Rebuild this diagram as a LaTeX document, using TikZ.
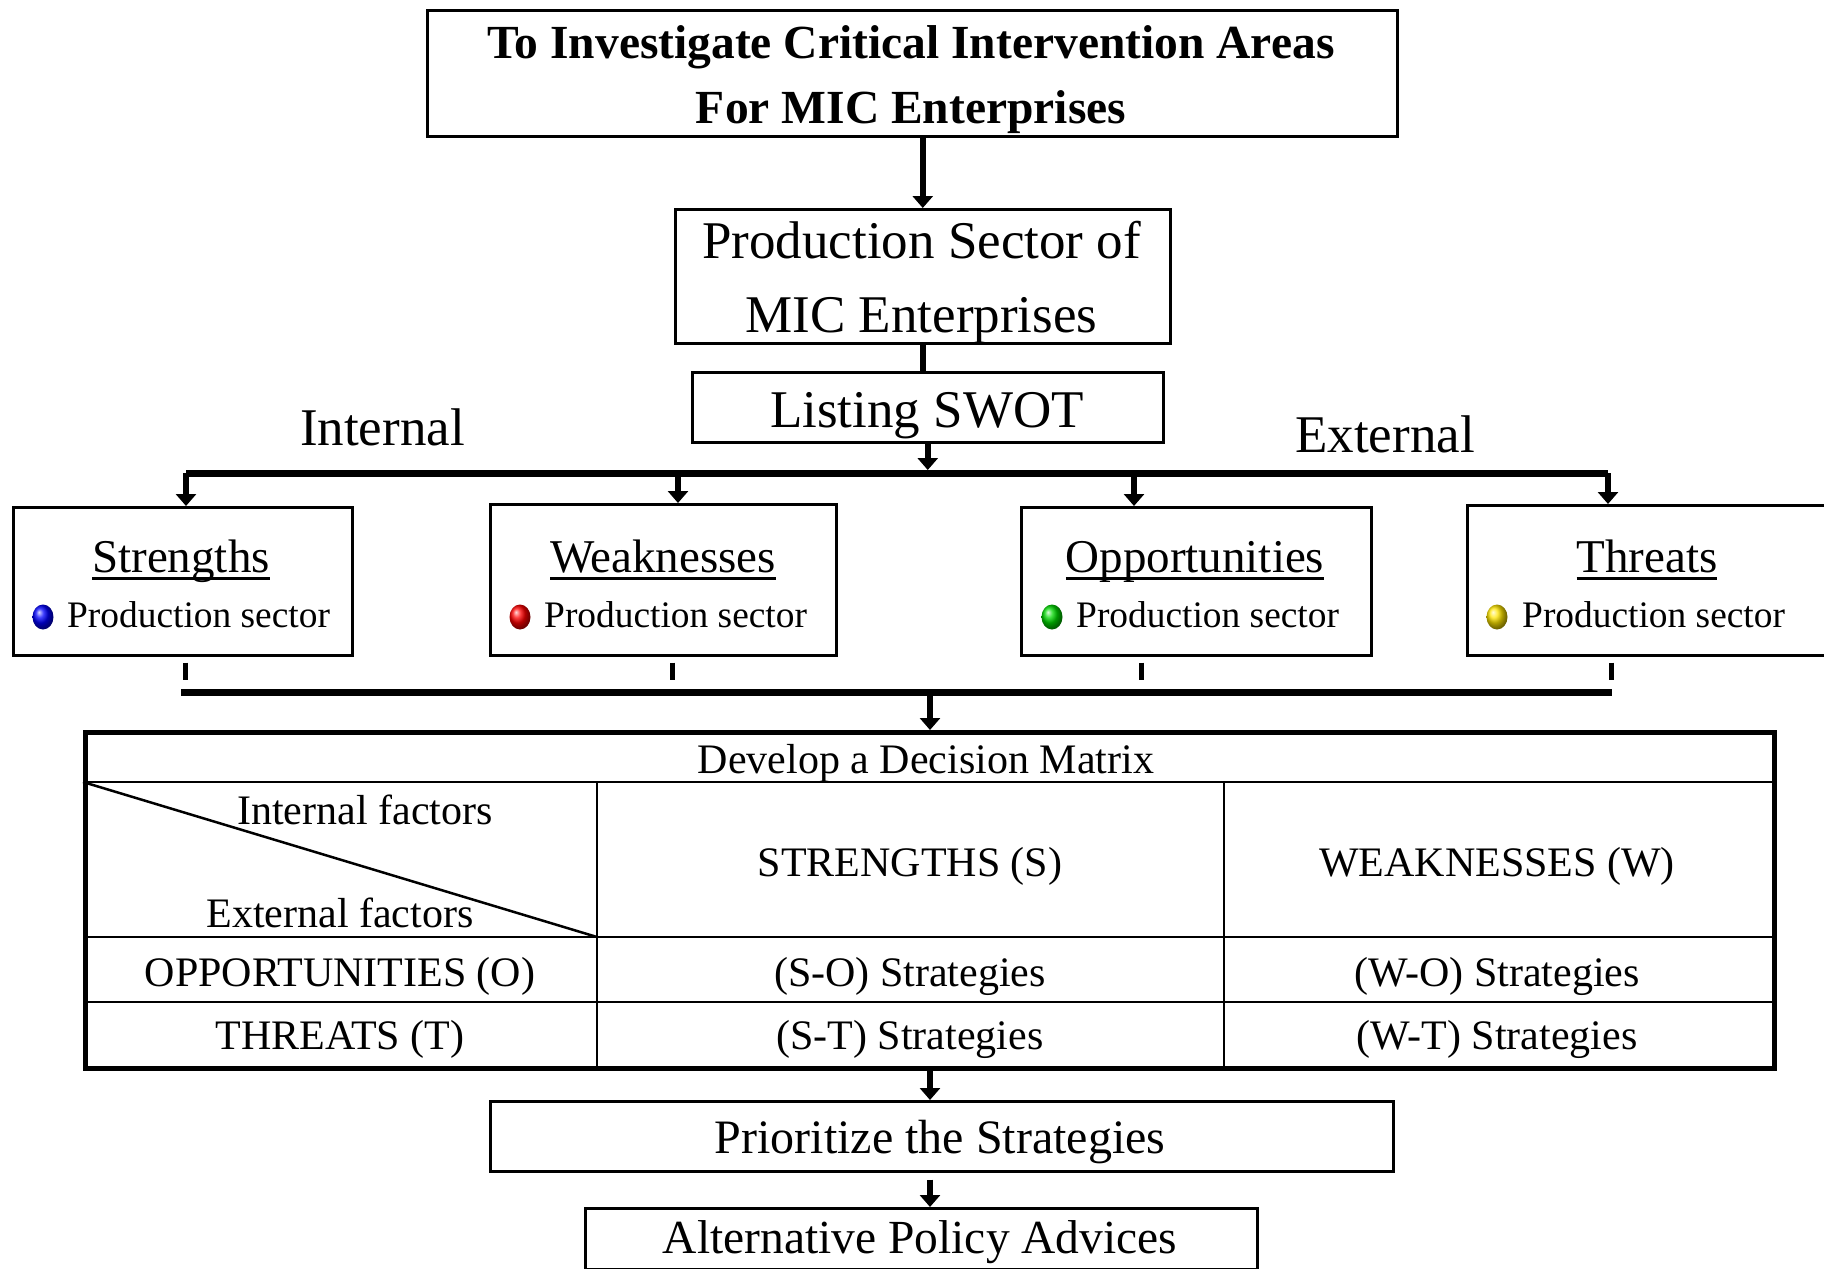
\documentclass[tikz,border=0pt]{standalone}
\usepackage{fontspec}
\setmainfont{Liberation Serif}
\usetikzlibrary{arrows.meta,shadings}
\newcommand{\myul}[1]{\setbox0=\hbox{#1}\rlap{\rule[-7.5pt]{\wd0}{3pt}}\box0}
\newcommand{\fs}[1]{\fontsize{#1}{#1}\selectfont}
\begin{document}
\begin{tikzpicture}[x=1pt,y=-1pt,
  box/.style={draw, line width=2.5pt, inner sep=0pt, anchor=north west},
  arr/.style={line width=6pt, -{Triangle[length=12pt,width=20pt]}},
  thickln/.style={line width=6pt},
  barln/.style={line width=7pt},
  tickln/.style={line width=5pt},
  gridln/.style={line width=2pt},
  txt/.style={inner sep=0pt, anchor=base},
  big/.style={txt, font=\fs{53}},
  ttl/.style={txt, font=\fs{47}},
  small/.style={txt, anchor=base west, font=\fs{37.4}},
  mtx/.style={txt, font=\fs{42}}]
\clip (0,0) rectangle (1824,1269);
% boxes
\node[box, minimum width=970pt, minimum height=126pt] (goal) at (426,9) {};
\node[box, minimum width=495pt, minimum height=134pt] (prod) at (674,208) {};
\node[box, minimum width=471pt, minimum height=70pt] (swot) at (691,371) {};
\node[box, minimum width=339pt, minimum height=148pt] (str) at (12,506) {};
\node[box, minimum width=346pt, minimum height=151pt] (weak) at (489,503) {};
\node[box, minimum width=350pt, minimum height=148pt] (opp) at (1020,506) {};
\node[box, minimum width=364pt, minimum height=150pt] (thr) at (1466,504) {};
\node[draw, line width=5pt, inner sep=0pt, anchor=north west, minimum width=1689pt, minimum height=336pt] (mat) at (83,730) {};
\node[box, minimum width=903pt, minimum height=70pt] (prio) at (489,1100) {};
\node[box, minimum width=672pt, minimum height=61pt] (alt) at (584,1207) {};
% texts
\node[txt, font=\fs{47.5}\bfseries] (g1) at (911,58) {To Investigate Critical Intervention Areas};
\node[txt, font=\fs{47.5}\bfseries] (g2) at (911,123) {For MIC Enterprises};
\node[big] (p1) at (921.5,258) {Production Sector of};
\node[big] (p2) at (921.5,332) {MIC Enterprises};
\node[big] (sw) at (927,427) {Listing SWOT};
\node[big] (int) at (382.5,445) {Internal};
\node[big] (ext) at (1385,452) {External};
\node[ttl] (ts) at (181,572) {\myul{Strengths}};
\node[ttl] (tw) at (663,572) {\myul{Weaknesses}};
\node[ttl] (to) at (1195,572) {\myul{Opportunities}};
\node[ttl] (tt) at (1647,572) {\myul{Threats}};
\node[small] (ps) at (67,627) {Production sector};
\node[small] (pw) at (544,627) {Production sector};
\node[small] (po) at (1076,627) {Production sector};
\node[small] (pt) at (1522,627) {Production sector};
\shade[ball color=blue] (43,617) ellipse (10.5pt and 12.5pt);
\shade[ball color=red] (520,617) ellipse (10.5pt and 12.5pt);
\shade[ball color=green!85!black] (1052,617) ellipse (10.5pt and 12.5pt);
\shade[ball color=yellow!80!orange] (1497,617) ellipse (10.5pt and 12.5pt);
% matrix grid
\draw[gridln] (83,782) -- (1772,782);
\draw[gridln] (83,937) -- (1772,937);
\draw[gridln] (83,1002) -- (1772,1002);
\draw[gridln] (597,782) -- (597,1066);
\draw[gridln] (1224,782) -- (1224,1066);
\draw[line width=2.5pt] (83,782) -- (597,937);
\node[mtx] (m0) at (926,773) {Develop a Decision Matrix};
\node[mtx] (mi) at (365,824) {Internal factors};
\node[mtx] (me) at (340,927) {External factors};
\node[mtx] (ms) at (910,876) {STRENGTHS (S)};
\node[mtx] (mw) at (1497,876) {WEAKNESSES (W)};
\node[mtx] (mo) at (340,986) {OPPORTUNITIES (O)};
\node[mtx] (mso) at (910,986) {(S-O) Strategies};
\node[mtx] (mwo) at (1497,986) {(W-O) Strategies};
\node[mtx] (mt) at (340,1049) {THREATS (T)};
\node[mtx] (mst) at (910,1049) {(S-T) Strategies};
\node[mtx] (mwt) at (1497,1049) {(W-T) Strategies};
\node[txt, font=\fs{48}] (pr) at (940,1153) {Prioritize the Strategies};
\node[txt, font=\fs{47.5}] (al) at (920,1253) {Alternative Policy Advices};
% connectors
\draw[arr] (goal.south -| prod.north) -- (prod.north);
\draw[thickln] (prod.south) -- (prod.south |- swot.north);
\coordinate (barL) at (186,473);
\coordinate (barR) at (1608,473);
\coordinate (bw) at (678,473);
\coordinate (bo) at (1134,473);
\draw[barln] (barL) -- (barR);
\draw[arr, shorten >=3pt] (swot.south) -- (swot.south |- barL);
\draw[arr] (barL) -- (barL |- str.north);
\draw[arr] (bw) -- (bw |- weak.north);
\draw[arr] (bo) -- (bo |- opp.north);
\draw[arr] (barR) -- (barR |- thr.north);
\coordinate (t1) at (185,680);
\coordinate (t2) at (672,680);
\coordinate (t3) at (1141,680);
\coordinate (t4) at (1611,680);
\draw[tickln, shorten <=6pt] (t1 |- str.south) -- (t1);
\draw[tickln, shorten <=6pt] (t2 |- weak.south) -- (t2);
\draw[tickln, shorten <=6pt] (t3 |- opp.south) -- (t3);
\draw[tickln, shorten <=6pt] (t4 |- thr.south) -- (t4);
\coordinate (bbL) at (181,692);
\coordinate (bbR) at (1612,692);
\draw[barln] (bbL) -- (bbR);
\draw[arr] (mat.north |- bbL) -- (mat.north);
\draw[arr] (mat.south) -- (mat.south |- prio.north);
\draw[arr, shorten <=7pt] (mat.south |- prio.south) -- (mat.south |- alt.north);
\end{tikzpicture}
\end{document}
